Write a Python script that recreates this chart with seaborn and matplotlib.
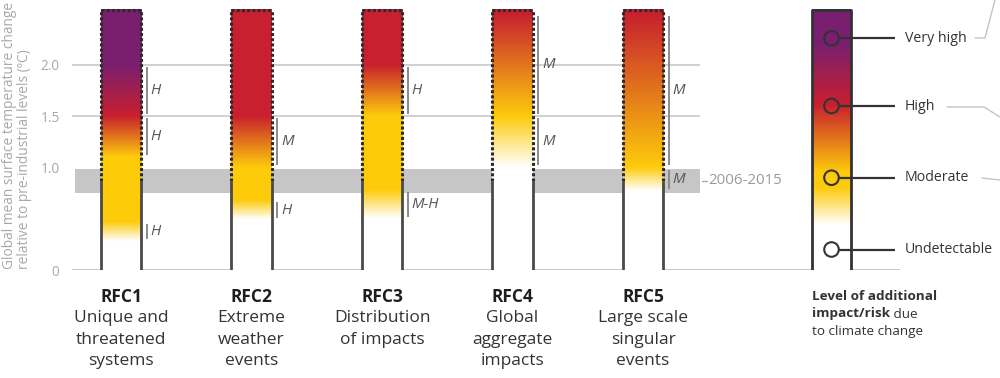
#!/usr/bin/env python3
"""Burning embers: additional risk for the five reasons for concern vs warming."""
import numpy as np
import matplotlib
matplotlib.use("Agg")
import matplotlib.pyplot as plt
import seaborn as sns
from matplotlib.colors import LinearSegmentedColormap

# Dados
rfc_codes = ["RFC1", "RFC2", "RFC3", "RFC4", "RFC5"]
rfc_names = ["Unique and\nthreatened\nsystems", "Extreme\nweather\nevents",
             "Distribution\nof impacts", "Global\naggregate\nimpacts",
             "Large scale\nsingular\nevents"]
bar_top = 2.54

# each transition = one step up in risk level: (start ºC, end ºC, confidence)
rfc1_transitions = [(0.28, 0.47, "H"), (1.10, 1.50, "H"), (1.50, 2.00, "H")]
rfc2_transitions = [(0.49, 0.68, "H"), (1.00, 1.50, "M")]
rfc3_transitions = [(0.50, 0.78, "M-H"), (1.50, 2.00, "H")]
rfc4_transitions = [(1.00, 1.50, "M"), (1.50, 2.50, "M")]
rfc5_transitions = [(0.77, 1.00, "M"), (1.00, 2.50, "M")]
all_transitions = [rfc1_transitions, rfc2_transitions, rfc3_transitions,
                   rfc4_transitions, rfc5_transitions]

present_low, present_high, present_mid = 0.75, 0.99, 0.87
present_label = "2006-2015"
yticks = [0, 1.0, 1.5, 2.0]
ytick_labels = ["0", "1.0", "1.5", "2.0"]
grid_levels = [1.5, 2.0]

legend_labels = ["Undetectable", "Moderate", "High", "Very high"]
legend_marks = [0.20, 0.90, 1.60, 2.26]
legend_transitions = [(0.44, 0.80), (0.95, 1.61), (1.61, 2.20)]

level_colors = ["#ffffff", "#fdcb0b", "#c8202e", "#7a1f6f"]
embers = LinearSegmentedColormap.from_list("embers", level_colors)

# layout (pixels of the 1000x378 figure)
PX_W, PX_H = 1000, 378
BASE_PX, PX_PER_DEG, YMAX = 270, 102.5, 2.6
STEP_PX, FIRST_PX = 130.5, 121
AX_L, AX_R = 72, 900
GRID_R = 700


def risk_level(t, transitions):
    lev = np.zeros_like(t)
    for lo, hi, *_ in transitions:
        lev += np.clip((t - lo) / (hi - lo), 0, 1)
    return lev


def ember_image(transitions, top):
    t = np.linspace(0, top, 500)
    return embers(risk_level(t, transitions) / 3)[:, None, :]


sns.set_style("white")
plt.rcParams["font.family"] = ["Open Sans", "DejaVu Sans"]

fig = plt.figure(figsize=(PX_W / 100, PX_H / 100), dpi=100)
ax_b = (PX_H - BASE_PX) / PX_H
ax_h = YMAX * PX_PER_DEG / PX_H
ax = fig.add_axes([AX_L / PX_W, ax_b, (AX_R - AX_L) / PX_W, ax_h])

sns.barplot(x=rfc_codes, y=[bar_top] * len(rfc_codes), width=0.314,
            color="white", linewidth=0, ax=ax, zorder=1)

xlim = ((AX_L - FIRST_PX) / STEP_PX, (AX_R - FIRST_PX) / STEP_PX)
grid_r = (GRID_R - FIRST_PX) / STEP_PX
band_l = (75 - FIRST_PX) / STEP_PX

# present-day warming band + grid
ax.fill_between([band_l, grid_r], present_low, present_high,
                color="#c6c6c6", lw=0, zorder=0)
ax.hlines(grid_levels, xlim[0], grid_r, color="#c8c8c8", lw=1.2, zorder=0)
ax.axhline(0, color="#bdbdbd", lw=1.2, zorder=0)

dash = (0, (1.0, 0.7))
for p, trans in zip(ax.patches, all_transitions):
    x0, w, top = p.get_x(), p.get_width(), p.get_height()
    x1 = x0 + w
    ax.imshow(ember_image(trans, top), extent=[x0, x1, 0, top],
              origin="lower", aspect="auto", zorder=2, interpolation="bilinear")
    for xe in (x0, x1):
        ax.plot([xe, xe], [0, present_mid], color="#4a4a4a", lw=2,
                solid_capstyle="butt", zorder=3)
        ax.plot([xe, xe], [present_mid, top], color="#2b2b2b", lw=2.2,
                ls=dash, zorder=3)
    ax.plot([x0, x1], [top, top], color="#2b2b2b", lw=2.2, ls=dash, zorder=3)

    # confidence lines
    lx = x1 + 0.04
    for lo, hi, conf in trans:
        ax.plot([lx, lx], [lo + 0.02, hi - 0.02], color="#8a8a8a", lw=1.4,
                solid_capstyle="butt", zorder=3)
        ax.text(lx + 0.03, (lo + hi) / 2, conf, style="italic", fontsize=10.8,
                color="#555555", va="center", ha="left")

ax.plot([grid_r + 0.015, grid_r + 0.05], [present_mid, present_mid],
        color="#aaaaaa", lw=1, clip_on=False)
ax.text(grid_r + 0.065, present_mid, present_label, fontsize=10.8,
        color="#9a9a9a", va="center", ha="left")

ax.set_xlim(xlim)
ax.set_ylim(0, YMAX)
ax.set_yticks(yticks)
ax.set_yticklabels(ytick_labels, color="#a8a8a8", fontsize=9.8)
ax.tick_params(axis="y", length=0, pad=9)
ax.set_xticks([])
ax.set_xlabel("")
ax.set_ylabel("")
sns.despine(ax=ax, left=True, bottom=True)

# category labels under the bars
xt = ax.get_xaxis_transform()
ax_px = YMAX * PX_PER_DEG
for i, (code, name) in enumerate(zip(rfc_codes, rfc_names)):
    ax.text(i, -27 / ax_px, code, transform=xt, ha="center", va="center",
            fontsize=12.5, fontweight="bold", color="#1e1e1e")
    for j, line in enumerate(name.split("\n")):
        ax.text(i, -(48 + 21.5 * j) / ax_px, line, transform=xt, ha="center",
                va="center", fontsize=12.5, color="#333333")

fig.text(17 / PX_W, 1 - 135 / PX_H,
         "Global mean surface temperature change\nrelative to pre-industrial levels (ºC)",
         rotation=90, ha="center", va="center", multialignment="left",
         fontsize=9.9, color="#a8a8a8", linespacing=1.0)

# legend
lg = fig.add_axes([790 / PX_W, ax_b, 210 / PX_W, ax_h], facecolor="none")
lg.set_xlim(790, 1000)
lg.set_ylim(0, YMAX)
lg.axis("off")
lb0, lb1 = 812, 851
lc = (lb0 + lb1) / 2
lg.imshow(ember_image(legend_transitions, bar_top), extent=[lb0, lb1, 0, bar_top],
          origin="lower", aspect="auto", zorder=1, interpolation="bilinear")
lg.plot([lb0, lb0, lb1, lb1], [0, bar_top, bar_top, 0], color="#333333", lw=2,
        zorder=2)
lg.hlines(legend_marks, lc + 7, 895, color="#333333", lw=1.6, zorder=2)
lg.scatter([lc] * len(legend_marks), legend_marks, s=110,
           facecolors=["white", "none", "none", "none"], edgecolors="#333333",
           linewidths=1.5, zorder=3)
for y, lab in zip(legend_marks, legend_labels):
    lg.text(905, y, lab, fontsize=10.2, color="#333333", va="center", ha="left")
lg.set_xlim(790, 1000)
lg.set_ylim(0, YMAX)

# legend title (partly bold)
fig.text(812 / PX_W, 1 - 297 / PX_H, "Level of additional", fontsize=9.7,
         fontweight="bold", color="#333333", va="center")
t_bold = fig.text(812 / PX_W, 1 - 314 / PX_H, "impact/risk", fontsize=9.7,
                  fontweight="bold", color="#333333", va="center")
fig.canvas.draw()
bb = t_bold.get_window_extent()
fig.text(bb.x1 / PX_W, 1 - 314 / PX_H, " due", fontsize=9.7, color="#333333",
         va="center")
fig.text(812 / PX_W, 1 - 331 / PX_H, "to climate change", fontsize=9.7,
         color="#333333", va="center")

# leader lines running off to the right
ov = fig.add_axes([0, 0, 1, 1], facecolor="none")
ov.set_xlim(0, PX_W)
ov.set_ylim(PX_H, 0)
ov.axis("off")
ov.plot([975, 985, 995], [38, 38, 0], color="#c4c4c4", lw=1)
ov.plot([947, 984, 1000], [107, 107, 117], color="#c4c4c4", lw=1)
ov.plot([982, 1000], [178, 180], color="#c4c4c4", lw=1)

fig.savefig("out.png", dpi=100)
